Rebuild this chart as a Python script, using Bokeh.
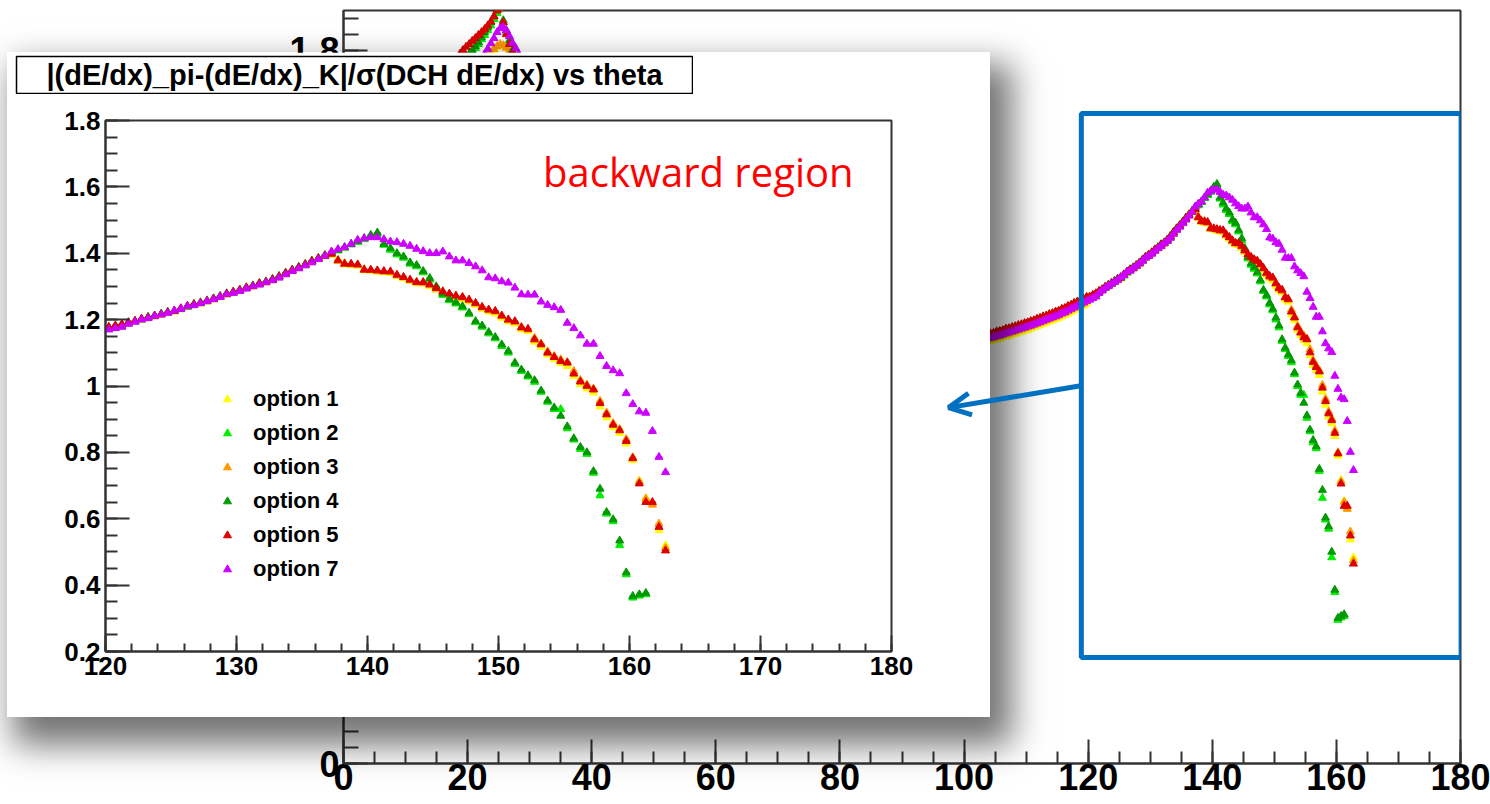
from bokeh.plotting import figure
from bokeh.models import (Range1d, FixedTicker, CustomJSTickFormatter, Legend, LegendItem,
                          Label, BoxAnnotation, Arrow, OpenHead)
from bokeh.layouts import column
from bokeh.embed import file_html
from bokeh.resources import INLINE

TITLE = "|(dE/dx)_pi-(dE/dx)_K|/\u03c3(DCH dE/dx) vs theta"
NOTE = "backward region"
names = ["option 1", "option 2", "option 3", "option 4", "option 5", "option 7"]
colors = ["#ffff00", "#00ee00", "#ff9900", "#009900", "#dd0000", "#cc00ff"]

# bin centres (0.5 degree bins)
bwd_theta = [120.25 + 0.5 * i for i in range(86)]
mid_theta = [103.25 + 0.5 * i for i in range(34)]
fwd_theta = [18.75 + 0.5 * i for i in range(20)]

# backward region values (120-163 deg)
opt1_bwd = [1.172, 1.176, 1.183, 1.188, 1.194, 1.199, 1.205, 1.209, 1.214, 1.220, 1.224, 1.231, 1.238, 1.244, 1.248, 1.254, 1.260,
            1.267, 1.275, 1.281, 1.287, 1.294, 1.299, 1.306, 1.311, 1.318, 1.327, 1.337, 1.347, 1.355, 1.364, 1.374, 1.382, 1.390,
            1.394, 1.376, 1.366, 1.364, 1.362, 1.348, 1.347, 1.344, 1.342, 1.340, 1.331, 1.324, 1.316, 1.309, 1.308, 1.300, 1.290,
            1.280, 1.272, 1.266, 1.262, 1.254, 1.244, 1.232, 1.224, 1.218, 1.205, 1.194, 1.188, 1.170, 1.165, 1.133, 1.118, 1.094,
            1.080, 1.068, 1.060, 1.030, 1.005, 0.992, 0.980, 0.938, 0.905, 0.875, 0.858, 0.826, 0.776, 0.715, 0.662, 0.645, 0.565, 0.520]
opt2_bwd = [1.173, 1.179, 1.186, 1.189, 1.196, 1.200, 1.206, 1.210, 1.218, 1.221, 1.227, 1.231, 1.238, 1.246, 1.252, 1.255, 1.264,
            1.269, 1.277, 1.284, 1.290, 1.295, 1.303, 1.307, 1.315, 1.321, 1.330, 1.339, 1.348, 1.356, 1.365, 1.375, 1.384, 1.393,
            1.400, 1.408, 1.416, 1.426, 1.434, 1.442, 1.452, 1.458, 1.425, 1.410, 1.396, 1.386, 1.368, 1.360, 1.342, 1.320, 1.296,
            1.274, 1.258, 1.248, 1.236, 1.216, 1.192, 1.178, 1.158, 1.143, 1.120, 1.100, 1.066, 1.045, 1.028, 1.012, 0.982, 0.952,
            0.930, 0.930, 0.872, 0.838, 0.810, 0.795, 0.738, 0.670, 0.615, 0.592, 0.520, 0.432, 0.362, 0.368, 0.372]
opt3_bwd = [1.176, 1.180, 1.185, 1.190, 1.195, 1.201, 1.207, 1.211, 1.215, 1.221, 1.227, 1.233, 1.240, 1.245, 1.251, 1.258, 1.262,
            1.269, 1.276, 1.284, 1.290, 1.296, 1.302, 1.308, 1.314, 1.320, 1.330, 1.339, 1.350, 1.358, 1.367, 1.377, 1.386, 1.395,
            1.402, 1.380, 1.370, 1.366, 1.364, 1.352, 1.349, 1.347, 1.344, 1.343, 1.333, 1.327, 1.318, 1.312, 1.310, 1.304, 1.293,
            1.283, 1.276, 1.270, 1.266, 1.258, 1.248, 1.236, 1.228, 1.224, 1.210, 1.198, 1.192, 1.178, 1.170, 1.145, 1.128, 1.104,
            1.090, 1.080, 1.072, 1.045, 1.018, 1.004, 0.992, 0.955, 0.920, 0.888, 0.870, 0.840, 0.785, 0.712, 0.660, 0.642, 0.585, 0.512]
opt4_bwd = [1.175, 1.181, 1.184, 1.191, 1.195, 1.201, 1.208, 1.212, 1.217, 1.223, 1.225, 1.233, 1.240, 1.247, 1.251, 1.257, 1.263,
            1.271, 1.279, 1.283, 1.288, 1.296, 1.302, 1.310, 1.314, 1.322, 1.331, 1.341, 1.350, 1.358, 1.367, 1.377, 1.385, 1.394,
            1.402, 1.410, 1.418, 1.428, 1.436, 1.445, 1.455, 1.462, 1.428, 1.415, 1.400, 1.390, 1.372, 1.364, 1.346, 1.325, 1.300,
            1.278, 1.262, 1.252, 1.240, 1.220, 1.195, 1.182, 1.162, 1.147, 1.125, 1.105, 1.070, 1.049, 1.032, 1.017, 0.986, 0.956,
            0.935, 0.910, 0.878, 0.842, 0.816, 0.800, 0.743, 0.690, 0.620, 0.598, 0.534, 0.438, 0.367, 0.372, 0.376]
opt5_bwd = [1.178, 1.182, 1.186, 1.192, 1.196, 1.203, 1.206, 1.212, 1.216, 1.222, 1.226, 1.234, 1.241, 1.246, 1.250, 1.256, 1.263,
            1.270, 1.278, 1.283, 1.289, 1.297, 1.301, 1.309, 1.313, 1.321, 1.329, 1.340, 1.349, 1.357, 1.366, 1.376, 1.384, 1.392,
            1.398, 1.378, 1.368, 1.368, 1.366, 1.350, 1.350, 1.348, 1.346, 1.345, 1.335, 1.328, 1.320, 1.313, 1.313, 1.306, 1.295,
            1.285, 1.278, 1.272, 1.268, 1.260, 1.250, 1.238, 1.230, 1.226, 1.212, 1.200, 1.195, 1.176, 1.172, 1.140, 1.125, 1.100,
            1.087, 1.075, 1.070, 1.037, 1.013, 1.000, 0.989, 0.948, 0.914, 0.883, 0.866, 0.834, 0.782, 0.706, 0.650, 0.650, 0.575, 0.504]
opt7_bwd = [1.170, 1.174, 1.178, 1.187, 1.193, 1.200, 1.204, 1.210, 1.215, 1.220, 1.227, 1.232, 1.240, 1.243, 1.249, 1.255, 1.261,
            1.268, 1.276, 1.280, 1.286, 1.293, 1.300, 1.305, 1.312, 1.318, 1.326, 1.336, 1.346, 1.354, 1.363, 1.372, 1.382, 1.392,
            1.405, 1.412, 1.418, 1.428, 1.440, 1.445, 1.448, 1.448, 1.442, 1.435, 1.433, 1.428, 1.422, 1.413, 1.406, 1.400, 1.400,
            1.405, 1.390, 1.378, 1.378, 1.370, 1.360, 1.348, 1.327, 1.324, 1.315, 1.311, 1.296, 1.276, 1.275, 1.275, 1.254, 1.244,
            1.237, 1.229, 1.190, 1.174, 1.152, 1.127, 1.127, 1.090, 1.060, 1.047, 1.038, 0.978, 0.945, 0.923, 0.919, 0.864, 0.786, 0.740]

# values 103-120 deg (only in the full-range plot)
opt1_mid = [1.062, 1.064, 1.066, 1.068, 1.070, 1.072, 1.075, 1.077, 1.079, 1.082, 1.084, 1.087, 1.089, 1.092, 1.094, 1.097, 1.100,
            1.103, 1.106, 1.109, 1.112, 1.115, 1.118, 1.121, 1.124, 1.128, 1.131, 1.135, 1.139, 1.143, 1.147, 1.151, 1.155, 1.160]
opt2_mid = [1.077, 1.080, 1.081, 1.084, 1.086, 1.089, 1.090, 1.094, 1.095, 1.098, 1.100, 1.103, 1.105, 1.108, 1.110, 1.113, 1.115,
            1.119, 1.121, 1.125, 1.127, 1.131, 1.133, 1.137, 1.139, 1.144, 1.146, 1.151, 1.154, 1.159, 1.162, 1.167, 1.170, 1.175]
opt3_mid = [1.068, 1.070, 1.072, 1.074, 1.076, 1.078, 1.081, 1.083, 1.085, 1.088, 1.090, 1.093, 1.095, 1.098, 1.100, 1.103, 1.106,
            1.109, 1.112, 1.115, 1.118, 1.121, 1.124, 1.127, 1.130, 1.134, 1.137, 1.141, 1.145, 1.149, 1.153, 1.157, 1.161, 1.166]
opt4_mid = [1.079, 1.081, 1.083, 1.085, 1.088, 1.090, 1.092, 1.095, 1.097, 1.099, 1.102, 1.104, 1.107, 1.109, 1.112, 1.114, 1.117,
            1.120, 1.123, 1.126, 1.129, 1.132, 1.135, 1.138, 1.141, 1.145, 1.148, 1.152, 1.156, 1.160, 1.164, 1.168, 1.172, 1.176]
opt5_mid = [1.081, 1.082, 1.085, 1.086, 1.090, 1.091, 1.093, 1.097, 1.098, 1.101, 1.103, 1.106, 1.108, 1.111, 1.113, 1.116, 1.118,
            1.122, 1.124, 1.128, 1.130, 1.134, 1.136, 1.140, 1.142, 1.147, 1.149, 1.154, 1.157, 1.162, 1.165, 1.170, 1.173, 1.177]
opt7_mid = [1.071, 1.073, 1.074, 1.076, 1.079, 1.080, 1.083, 1.086, 1.088, 1.090, 1.093, 1.095, 1.098, 1.100, 1.103, 1.105, 1.108,
            1.111, 1.114, 1.117, 1.120, 1.123, 1.126, 1.129, 1.132, 1.136, 1.139, 1.143, 1.147, 1.151, 1.155, 1.159, 1.163, 1.167]

# forward peak region (18.75-28.25 deg), only in the full-range plot
opt1_fwd = [1.690, 1.700, 1.710, 1.720, 1.730, 1.740, 1.750, 1.760, 1.770, 1.780, 1.790, 1.800, 1.808, 1.812, 1.810, 1.806, 1.800, 1.790, 1.780, 1.770]
opt2_fwd = [1.755, 1.765, 1.775, 1.785, 1.795, 1.805, 1.815, 1.827, 1.838, 1.850, 1.862, 1.878, 1.893, 1.905, 1.870, 1.845, 1.820, 1.795, 1.775, 1.755]
opt3_fwd = [1.695, 1.705, 1.715, 1.725, 1.735, 1.745, 1.755, 1.765, 1.775, 1.785, 1.795, 1.803, 1.810, 1.815, 1.812, 1.806, 1.798, 1.788, 1.778, 1.768]
opt4_fwd = [1.760, 1.770, 1.780, 1.790, 1.800, 1.810, 1.820, 1.832, 1.845, 1.857, 1.870, 1.885, 1.900, 1.912, 1.875, 1.850, 1.825, 1.800, 1.780, 1.760]
opt5_fwd = [1.790, 1.800, 1.808, 1.815, 1.823, 1.830, 1.838, 1.845, 1.853, 1.862, 1.872, 1.885, 1.900, 1.905, 1.870, 1.840, 1.815, 1.795, 1.775, 1.755]
opt7_fwd = [1.700, 1.710, 1.720, 1.730, 1.740, 1.752, 1.764, 1.776, 1.790, 1.803, 1.817, 1.830, 1.845, 1.855, 1.858, 1.850, 1.835, 1.818, 1.805, 1.790]

bwd = [opt1_bwd, opt2_bwd, opt3_bwd, opt4_bwd, opt5_bwd, opt7_bwd]
mid = [opt1_mid, opt2_mid, opt3_mid, opt4_mid, opt5_mid, opt7_mid]
fwd = [opt1_fwd, opt2_fwd, opt3_fwd, opt4_fwd, opt5_fwd, opt7_fwd]

fmt = CustomJSTickFormatter(code="return Number(tick.toFixed(2)).toString();")
ARIAL = "Liberation Sans"
AX = "#333333"

# ---------------- full-range background plot ----------------
bg = figure(width=1490, height=804, x_range=Range1d(0, 180), y_range=Range1d(0, 1.9),
            output_backend="svg", toolbar_location=None, title=None, frame_align=False,
            min_border_left=343, min_border_right=30, min_border_top=10, min_border_bottom=41)
bg.grid.visible = False
bg.outline_line_color = AX
bg.outline_line_width = 2
bg.background_fill_color = "white"
bg.border_fill_color = "white"
bg.xaxis.ticker = FixedTicker(ticks=list(range(0, 181, 20)), minor_ticks=list(range(0, 181, 5)))
bg.yaxis.ticker = FixedTicker(ticks=[round(0.2 * i, 2) for i in range(10)],
                              minor_ticks=[round(0.04 * i, 2) for i in range(48)])
for ax in (bg.xaxis[0], bg.yaxis[0]):
    ax.formatter = fmt
    ax.axis_line_color = AX
    ax.axis_line_width = 2
    ax.major_tick_line_color = AX
    ax.minor_tick_line_color = AX
    ax.major_tick_line_width = 2
    ax.minor_tick_line_width = 2
    ax.major_tick_in = 24
    ax.major_tick_out = 0
    ax.minor_tick_in = 12
    ax.minor_tick_out = 0
    ax.major_label_text_font = ARIAL
    ax.major_label_text_font_style = "bold"
    ax.major_label_text_font_size = "36px"
    ax.major_label_text_color = "black"
bg.xaxis.major_label_standoff = 0
bg.yaxis.major_label_standoff = 4
bg.yaxis.minor_tick_in = 15

for vals_f, vals_m, vals_b, c in zip(fwd, mid, bwd, colors):
    xs = fwd_theta + mid_theta + bwd_theta[:len(vals_b)]
    ys = vals_f + vals_m + vals_b
    bg.scatter(xs, ys, marker="triangle", size=8, color=c)

bg.add_layout(BoxAnnotation(left=118.9, right=180.1, bottom=0.2675, top=1.64,
                            fill_alpha=0, line_alpha=1, line_color="#0070c0", line_width=5))

# ---------------- inset (zoom on backward region) ----------------
ins = figure(width=983, height=665, x_range=Range1d(120, 180), y_range=Range1d(0.2, 1.8),
             output_backend="svg", toolbar_location=None, title=None, frame_align=False,
             min_border_left=98, min_border_right=99, min_border_top=68, min_border_bottom=66)
ins.grid.visible = False
ins.outline_line_color = AX
ins.outline_line_width = 2
ins.background_fill_color = "white"
ins.border_fill_color = "white"
ins.xaxis.ticker = FixedTicker(ticks=list(range(120, 181, 10)), minor_ticks=list(range(120, 181, 2)))
ins.yaxis.ticker = FixedTicker(ticks=[round(0.2 + 0.2 * i, 2) for i in range(9)],
                               minor_ticks=[round(0.2 + 0.05 * i, 2) for i in range(33)])
for ax in (ins.xaxis[0], ins.yaxis[0]):
    ax.formatter = fmt
    ax.axis_line_color = AX
    ax.axis_line_width = 2
    ax.major_tick_line_color = AX
    ax.minor_tick_line_color = AX
    ax.major_tick_line_width = 2
    ax.minor_tick_line_width = 2
    ax.major_tick_out = 0
    ax.minor_tick_out = 0
    ax.major_label_text_font = ARIAL
    ax.major_label_text_font_style = "bold"
    ax.major_label_text_font_size = "26px"
    ax.major_label_text_color = "black"
ins.xaxis.major_tick_in = 16
ins.xaxis.minor_tick_in = 8
ins.yaxis.major_tick_in = 24
ins.yaxis.minor_tick_in = 12
ins.xaxis.major_label_standoff = 5
ins.yaxis.major_label_standoff = 5

items = []
for vals, c, nm in zip(bwd, colors, names):
    xs = bwd_theta[:len(vals)]
    ins.segment(x0=[t - 0.25 for t in xs], x1=[t + 0.25 for t in xs], y0=vals, y1=vals,
                line_color=c, line_width=1.5)
    r = ins.scatter(xs, vals, marker="triangle", size=8, color=c)
    items.append(LegendItem(label=nm, renderers=[r]))

leg = Legend(items=items, location=(112, 69), border_line_color=None, background_fill_alpha=0,
             glyph_width=20, glyph_height=20, label_height=20, spacing=8, padding=0, margin=0,
             label_standoff=16, label_text_font=ARIAL, label_text_font_style="bold",
             label_text_font_size="22px", label_text_color="black")
ins.add_layout(leg)

ins.add_layout(Label(x=153.4, y=1.646, text=NOTE, text_color="#ff0000", text_font="Open Sans",
                     text_font_size="40px", text_baseline="alphabetic"))
ins.margin = (-752, 0, 0, 7)
ins.styles = {"box-shadow": "14px 20px 32px 8px rgba(0,0,0,0.55)"}

# ---------------- title box of the inset ----------------
tfig = figure(width=678, height=39, x_range=Range1d(0, 1), y_range=Range1d(0, 1),
              output_backend="svg", toolbar_location=None, title=None, frame_align=False,
              x_axis_location=None, y_axis_location=None, min_border=1,
              border_fill_color="white", background_fill_color="white",
              outline_line_color="black", outline_line_width=1.5)
tfig.grid.visible = False
tfig.add_layout(Label(x=0.5, y=0.5, text=TITLE, text_align="center", text_baseline="middle",
                      text_font=ARIAL, text_font_style="bold", text_font_size="29px",
                      text_color="black"))
tfig.margin = (55 - 717, 0, 0, 15)

# ---------------- arrow overlay ----------------
arr = figure(width=150, height=50, x_range=Range1d(96.2, 120.4), y_range=Range1d(0.8605, 0.9866),
             output_backend="svg", toolbar_location=None, title=None, frame_align=False,
             x_axis_location=None, y_axis_location=None, min_border=0,
             border_fill_color=None, background_fill_color=None, outline_line_color=None)
arr.grid.visible = False
arr.add_layout(Arrow(x_start=119.1, y_start=0.954, x_end=97.5, y_end=0.898,
                     line_color="#0070c0", line_width=5,
                     end=OpenHead(size=22, line_color="#0070c0", line_width=5)))
arr.margin = (372 - 94, 0, 804 - 422, 940)

p = column(bg, ins, tfig, arr, spacing=0)
open("out.html", "w").write(file_html(p, INLINE))
